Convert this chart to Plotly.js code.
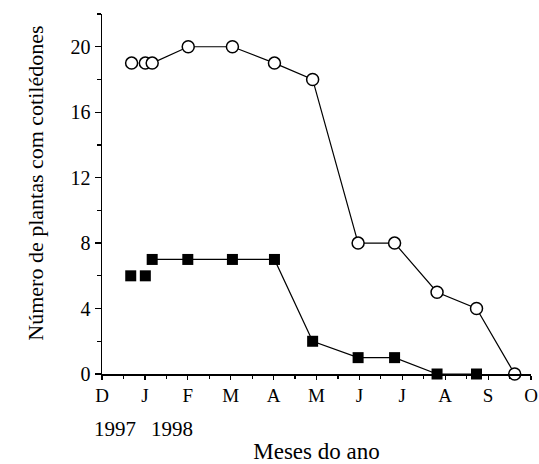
<!DOCTYPE html>
<html>
<head>
<meta charset="utf-8">
<script src="https://cdn.plot.ly/plotly-3.0.1.min.js"></script>
<style>html,body{margin:0;padding:0;background:#fff;}#chart{width:539px;height:464px;}</style>
</head>
<body>
<div id="chart"></div>
<script>
// month positions: 0 = D (Dec 1997), 1 = J (Jan 1998), ... 10 = O
var monthTickVals = [0,1,2,3,4,5,6,7,8,9,10];
var monthTickText = ["D","J","F","M","A","M","J","J","A","S","O"];
var yTickVals = [0,4,8,12,16,20];

var openX = [0.69, 1.01, 1.17, 2.01, 3.04, 4.02, 4.91, 5.97, 6.82, 7.81, 8.73, 9.62];
var openY = [19, 19, 19, 20, 20, 19, 18, 8, 8, 5, 4, 0];

var filledX = [0.67, 1.01, 1.17, 2.00, 3.04, 4.02, 4.91, 5.97, 6.82, 7.81, 8.73];
var filledY = [6, 6, 7, 7, 7, 7, 2, 1, 1, 0, 0];

var yearLabels = ["1997", "1998"];
var yearPos = [0.3, 1.62];

var xTitle = "Meses do ano";
var yTitle = "Número de plantas com cotilédones";

var font = "Liberation Serif";
var nLoose = 2; // first two points are not joined by the line

var sqMarker = {symbol:"square", size:11, color:"#000", line:{width:0}};
var ciMarker = {symbol:"circle", size:12, color:"#fff", line:{width:1.5, color:"#000"}};

var traces = [
  {x: filledX.slice(0,nLoose), y: filledY.slice(0,nLoose), mode:"markers", marker: sqMarker, cliponaxis:false, showlegend:false},
  {x: filledX.slice(nLoose), y: filledY.slice(nLoose), mode:"lines+markers", line:{color:"#000", width:1.2}, marker: sqMarker, cliponaxis:false, showlegend:false},
  {x: openX.slice(0,nLoose), y: openY.slice(0,nLoose), mode:"markers", marker: ciMarker, cliponaxis:false, showlegend:false},
  {x: openX.slice(nLoose), y: openY.slice(nLoose), mode:"lines+markers", line:{color:"#000", width:1.2}, marker: ciMarker, cliponaxis:false, showlegend:false}
];

var annotations = yearLabels.map(function(t,i){
  return {x: yearPos[i], xref:"x", y:-0.153, yref:"paper", text:t, showarrow:false,
          xanchor:"center", yanchor:"middle", font:{family:font, size:21, color:"#000"}};
});
annotations.push({x:-0.155, xref:"paper", y:0.53, yref:"paper", text:yTitle, textangle:-90,
  showarrow:false, xanchor:"center", yanchor:"middle", font:{family:font, size:22, color:"#000"}});

var layout = {
  width:539, height:464,
  margin:{l:102, r:8, t:14, b:90},
  paper_bgcolor:"#fff", plot_bgcolor:"#fff",
  font:{family:font, color:"#000"},
  showlegend:false,
  xaxis:{
    range:[0,10], tickmode:"array", tickvals:monthTickVals, ticktext:monthTickText,
    ticklabeloverflow:"allow",
    showline:true, linecolor:"#000", linewidth:1.5, ticks:"outside", ticklen:4, tickwidth:1.2, tickcolor:"#000",
    minor:{tick0:0.5, dtick:1, ticks:"outside", ticklen:3, tickwidth:1.2, tickcolor:"#000", showgrid:false},
    showgrid:false, zeroline:false, tickfont:{family:font, size:19, color:"#000"},
    title:{text:xTitle, font:{family:font, size:23, color:"#000"}, standoff:53}
  },
  yaxis:{
    range:[0,22], tickmode:"array", tickvals:yTickVals,
    showline:true, linecolor:"#000", linewidth:1.5, ticks:"outside", ticklen:6, tickwidth:1.2, tickcolor:"#000",
    minor:{tick0:2, dtick:4, ticks:"outside", ticklen:4, tickwidth:1.2, tickcolor:"#000", showgrid:false},
    showgrid:false, zeroline:false, tickfont:{family:font, size:20, color:"#000"}
  },
  annotations: annotations
};

Plotly.newPlot("chart", traces, layout, {displayModeBar:false, staticPlot:true});
</script>
</body>
</html>
